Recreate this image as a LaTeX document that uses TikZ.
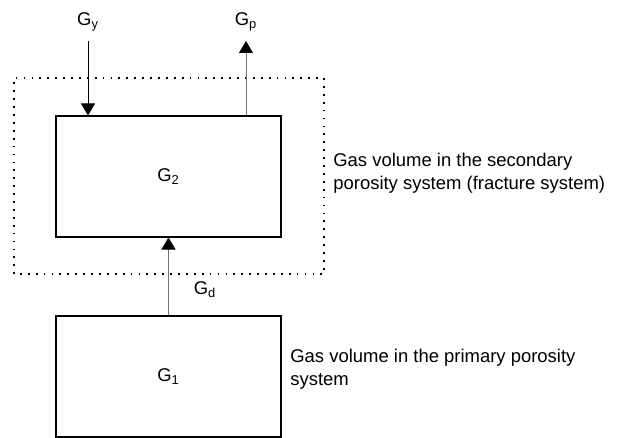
\documentclass[tikz,border=0pt]{standalone}
\usepackage{fontspec}
\setmainfont{Liberation Sans}
\usepackage{xcolor}
\usetikzlibrary{arrows.meta, positioning, calc}

\begin{document}
\begin{tikzpicture}[
  font=\fontsize{10.5}{13}\selectfont,
  store/.style={draw, line width=0.6pt, minimum width=4.5cm, minimum height=2.42cm, inner sep=0pt},
  flow/.style={line width=0.5pt, -{Triangle[width=2.8mm, length=2.4mm, black]}},
  note/.style={align=left, anchor=west, inner sep=0pt}
]
\useasboundingbox (0,0) rectangle (12.44,8.76);
% Fracture system boundary
\draw[line width=0.6pt, dash pattern=on 1pt off 3.5pt] (0.28,3.28) rectangle (6.48,7.20);
% Storage boxes
\node[store] (g2) at (3.37,5.23) {G\textsubscript{2}};
\node[store] (g1) at (3.37,1.23) {G\textsubscript{1}};
% Inflow and outflow
\coordinate (gyin) at (1.76,7.94);
\coordinate (gpout) at (4.92,7.94);
\node[above=0.07cm of gyin] (gy) {G\textsubscript{y}};
\node[above=0.07cm of gpout] (gp) {G\textsubscript{p}};
\draw[flow] (gyin) -- (gyin |- g2.north);
\draw[flow, draw=black!55] (gpout |- g2.north) -- (gpout);
% Desorption
\draw[flow, draw=black!55] (g1.north) -- (g2.south);
\node (gd) at (4.10,2.96) {G\textsubscript{d}};
% Descriptions
\node[note] (fracnote) at (6.66,5.29) {Gas volume in the secondary\\porosity system (fracture system)};
\node[note] (primnote) at (5.80,1.38) {Gas volume in the primary porosity\\system};
\end{tikzpicture}
\end{document}
